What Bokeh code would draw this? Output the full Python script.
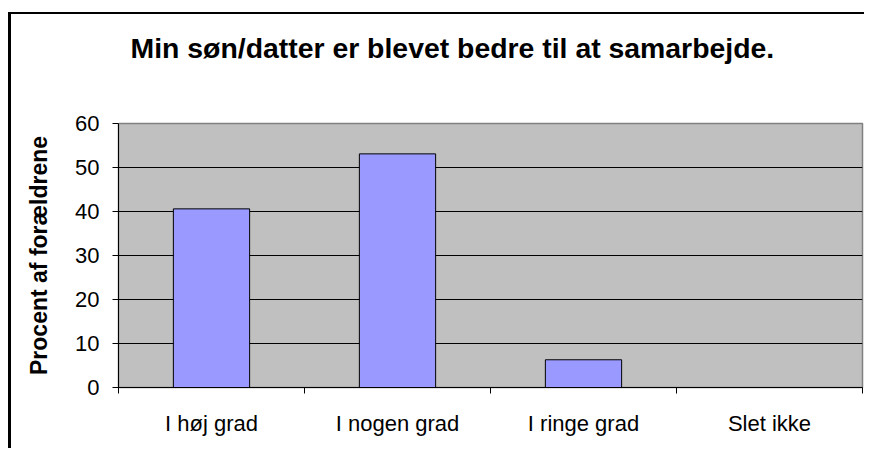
from bokeh.plotting import figure
from bokeh.models import Range1d, FixedTicker, LinearAxis
from bokeh.embed import file_html
from bokeh.resources import INLINE

# Data
categories = ["I høj grad", "I nogen grad", "I ringe grad", "Slet ikke"]
values = [40.6, 53.1, 6.3, 0.0]
y_ticks = [0, 10, 20, 30, 40, 50, 60]
title_text = "Min søn/datter er blevet bedre til at samarbejde."
y_label = "Procent af forældrene"

FONT = "Liberation Sans"

n = len(categories)
xs = [i + 0.5 for i in range(n)]

p = figure(width=856, height=436,
           x_range=Range1d(0, n), y_range=Range1d(y_ticks[0], y_ticks[-1]),
           output_backend="svg", toolbar_location=None,
           min_border_left=107, min_border_right=5,
           min_border_top=109, min_border_bottom=63)

p.background_fill_color = "#C0C0C0"
p.border_fill_color = "white"
p.outline_line_color = "#808080"
p.outline_line_width = 1.5

# Title
p.title.text = title_text
p.title.text_font = FONT
p.title.text_font_size = "28.4px"
p.title.text_font_style = "bold"
p.title.text_color = "black"
p.title.align = "left"
p.title.offset = 12
p.title.vertical_align = "bottom"
p.title.standoff = 10

# Bars
p.vbar(x=xs, top=values, width=0.41, bottom=0,
       fill_color="#9999FF", line_color="black", line_width=1)

# Grid
p.xgrid.visible = False
p.ygrid.ticker = FixedTicker(ticks=y_ticks[1:-1])
p.ygrid.grid_line_color = "black"
p.ygrid.grid_line_width = 1
p.ygrid.level = "underlay"

# Y axis
ya = p.left[0]
ya.ticker = FixedTicker(ticks=y_ticks)
ya.axis_line_color = "black"
ya.axis_line_width = 1
ya.major_tick_line_color = "black"
ya.major_tick_out = 6
ya.major_tick_in = 0
ya.minor_tick_line_color = None
ya.major_label_text_font = FONT
ya.major_label_text_font_size = "22px"
ya.major_label_text_color = "black"
ya.major_label_standoff = 13
ya.axis_label = y_label
ya.axis_label_text_font = FONT
ya.axis_label_text_font_size = "23px"
ya.axis_label_text_font_style = "bold"
ya.axis_label_text_color = "black"
ya.axis_label_standoff = 20

# X axis: labels at category centres, ticks at category boundaries
xa = p.below[0]
xa.ticker = FixedTicker(ticks=xs, minor_ticks=list(range(n + 1)))
xa.major_label_overrides = {x: c for x, c in zip(xs, categories)}
xa.axis_line_color = "black"
xa.axis_line_width = 1
xa.major_tick_line_color = None
xa.major_tick_out = 0
xa.major_tick_in = 0
xa.minor_tick_line_color = "black"
xa.minor_tick_out = 6
xa.minor_tick_in = 0
xa.major_label_text_font = FONT
xa.major_label_text_font_size = "22px"
xa.major_label_text_color = "black"
xa.major_label_standoff = 17

# Blank spacer axis between title and plot area (one white tick at the
# left edge, on white background, so that it reserves room but shows nothing)
spacer = LinearAxis(ticker=FixedTicker(ticks=[0]))
spacer.axis_line_color = None
spacer.major_tick_line_color = "white"
spacer.major_tick_out = 55
spacer.major_tick_in = 0
spacer.minor_tick_line_color = None
spacer.minor_tick_out = 0
spacer.major_label_overrides = {0: ""}
spacer.major_label_text_font_size = "1px"
spacer.major_label_text_color = "white"
spacer.major_label_standoff = 0
p.add_layout(spacer, "above")

# Chart-area frame (left and top edges visible in the crop)
p.margin = (12, 0, 0, 8)
p.styles = {"border-left": "3px solid black", "border-top": "2px solid black"}

open("out.html", "w").write(file_html(p, INLINE))
